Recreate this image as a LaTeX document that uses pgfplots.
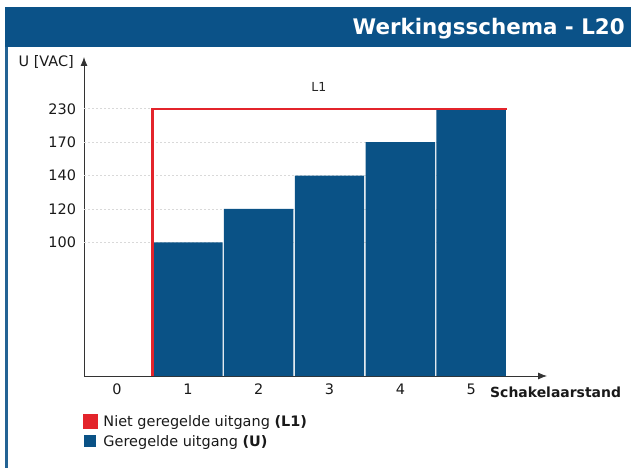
\documentclass[border=0pt]{standalone}
\usepackage{pgfplots}
\pgfplotsset{compat=1.18}
\usepackage{pgfplotstable}
\usetikzlibrary{arrows.meta}
\usepackage{fontspec}
\setmainfont{DejaVu Sans}
\definecolor{barblue}{HTML}{0A5286}
\definecolor{titleblue}{HTML}{0B5288}
\definecolor{lineRed}{HTML}{E3242B}
\pgfplotstableread{
x U
1 100
2 120
3 140
4 170
5 230
}\geregeld
\pgfplotstableread{
x L
0.5 0
0.5 230
5.5 230
}\nietgeregeld
\begin{document}
\begin{tikzpicture}
\useasboundingbox (0,0) rectangle (631bp,468bp);
% title bar and frame
\fill[titleblue] (5bp,421bp) rectangle (631bp,461bp);
\fill[titleblue!90!white] (5bp,0bp) rectangle (8bp,421bp);
\node[anchor=base east, text=white, font=\fontsize{21.5}{25}\selectfont\bfseries, inner sep=0pt] at (625bp,433bp) {Werkingsschema - L20};
\begin{axis}[
  at={(84bp,92bp)}, anchor=south west,
  scale only axis, width=463bp, height=319bp,
  xmin=-0.466, xmax=6.07,
  ymin=0, ymax=323,
  y coord trafo/.code={\pgfmathparse{(#1<100.001)*(#1/25) + (#1>100.001)*(#1<140.001)*(4+(#1-100)/20) + (#1>140.001)*(#1<170.001)*(6+(#1-140)/30) + (#1>170.001)*(7+(#1-170)/60)}},
  axis lines=left,
  axis line style={black!80, line width=0.8bp},
  every outer x axis line/.append style={-{Latex[length=9bp,width=7bp]}},
  every outer y axis line/.append style={-{Latex[length=9bp,width=7bp]}},
  xtick={0,1,2,3,4,5},
  ytick={100,120,140,170,230},
  yticklabels={100,120,140,170,230},
  major tick length=0pt,
  /pgf/number format/assume math mode=true,
  ticklabel style={font=\fontsize{14.5}{17}\selectfont, text=black!90},
  yticklabel style={xshift=-4.5bp},
  xticklabel style={yshift=-4.5bp},
  reverse legend,
  legend style={draw=none, fill=none, at={(0,0)}, anchor=north west, yshift=-37bp, xshift=-1bp,
    font=\fontsize{14.5}{17}\selectfont, row sep=3.5bp, column sep=4bp, inner sep=0pt,
    nodes={inner sep=2bp, text=black!90}},
  legend cell align=left,
  clip=false,
]
\pgfplotsinvokeforeach{100,120,140,170,230}{
  \draw[black!15, dash pattern=on 2bp off 2bp, line width=0.7bp] (axis cs:-0.466,#1) -- (axis cs:5.5,#1);
}
\addplot[ybar, bar width=0.98, fill=barblue, draw=none,
  legend image code/.code={\fill[barblue] (0bp,-6bp) rectangle (12bp,6bp);}]
  table[x=x, y=U] {\geregeld};
\addlegendentry{Geregelde uitgang \textbf{(U)}}
\addplot[lineRed, line width=2.3bp, line join=miter,
  legend image code/.code={\fill[lineRed] (0bp,-6bp) rectangle (12bp,6bp);}]
  table[x=x, y=L] {\nietgeregeld};
\addlegendentry{Niet geregelde uitgang \textbf{(L1)}}
\node[font=\fontsize{12.5}{14}\selectfont, text=black!85] at (axis cs:2.85,270) {L1};
\end{axis}
\node[anchor=east, font=\fontsize{14.5}{17}\selectfont, text=black!90, inner sep=0pt] at (74bp,406bp) {U [VAC]};
\node[anchor=base west, font=\fontsize{14}{16}\selectfont\bfseries, text=black!90, inner sep=0pt] at (490bp,70.5bp) {Schakelaarstand};
\end{tikzpicture}
\end{document}
